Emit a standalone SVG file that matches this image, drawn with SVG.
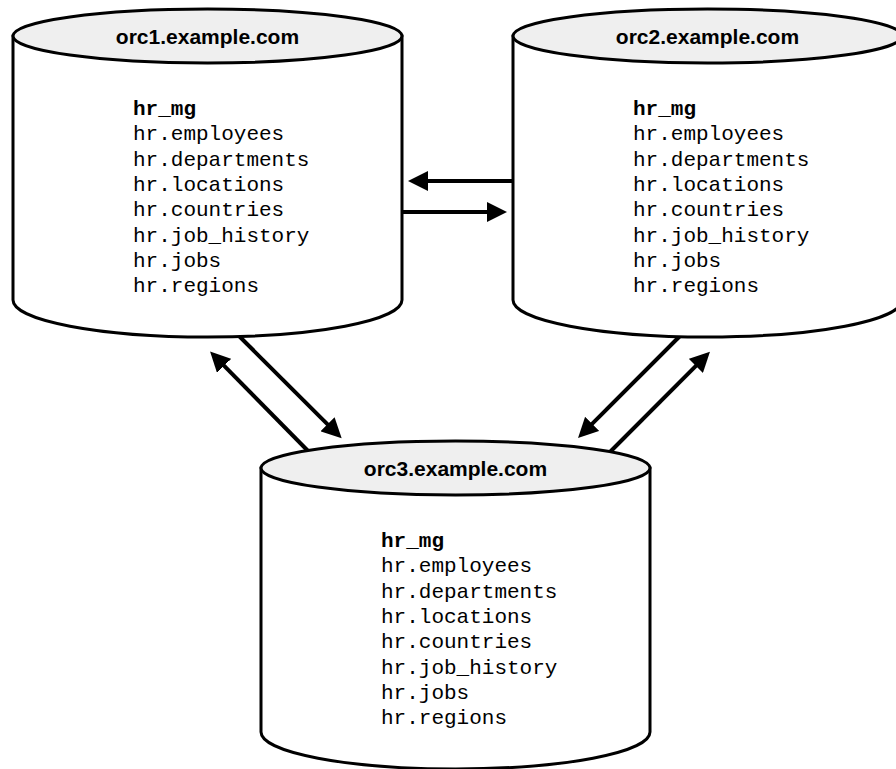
<svg xmlns="http://www.w3.org/2000/svg" width="896" height="769" viewBox="0 0 896 769">
<style>
.body{fill:#fff;stroke:#000;stroke-width:3}
.top{fill:#efefef;stroke:#000;stroke-width:3}
.title{font-family:"Liberation Sans",Arial,sans-serif;font-weight:bold;font-size:21px;fill:#000;text-anchor:middle}
.mono{font-family:"Liberation Mono","Courier New",monospace;font-size:21px;fill:#000}
.mono .b{font-weight:bold}
.conn{stroke:#000;stroke-width:4;fill:none;marker-end:url(#ah)}
</style>
<defs>
<marker id="ah" markerUnits="userSpaceOnUse" markerWidth="20" markerHeight="20" refX="10" refY="10" orient="auto" viewBox="0 0 20 20">
<path d="M0,0 L20,10 L0,20 Z" fill="#000"/>
</marker>
<g id="cyl">
<path class="body" d="M13,36 L13,300 A194.5,37 0 0 0 402,300 L402,36 Z"/>
<ellipse class="top" cx="207.5" cy="36" rx="194.5" ry="27"/>
</g>
</defs>
<g id="connectors">
<path class="conn" d="M513,181 L418,181"/>
<path class="conn" d="M402,212 L497,212"/>
<path class="conn" d="M312,455 L217.1,358.7"/>
<path class="conn" d="M238,335 L334.6,431.3"/>
<path class="conn" d="M682,334 L585.1,430.9"/>
<path class="conn" d="M607,455 L702.9,358.8"/>
</g>
<g id="orc1">
<use href="#cyl"/>
<text class="title" x="207.5" y="43.5">orc1.example.com</text>
<text class="mono" x="133"><tspan class="b" x="133" y="115">hr_mg</tspan><tspan x="133" y="140.3">hr.employees</tspan><tspan x="133" y="165.6">hr.departments</tspan><tspan x="133" y="190.9">hr.locations</tspan><tspan x="133" y="216.2">hr.countries</tspan><tspan x="133" y="241.5">hr.job_history</tspan><tspan x="133" y="266.8">hr.jobs</tspan><tspan x="133" y="292.1">hr.regions</tspan></text>
</g>
<g id="orc2" transform="translate(500,0)">
<use href="#cyl"/>
<text class="title" x="207.5" y="43.5">orc2.example.com</text>
<text class="mono" x="133"><tspan class="b" x="133" y="115">hr_mg</tspan><tspan x="133" y="140.3">hr.employees</tspan><tspan x="133" y="165.6">hr.departments</tspan><tspan x="133" y="190.9">hr.locations</tspan><tspan x="133" y="216.2">hr.countries</tspan><tspan x="133" y="241.5">hr.job_history</tspan><tspan x="133" y="266.8">hr.jobs</tspan><tspan x="133" y="292.1">hr.regions</tspan></text>
</g>
<g id="orc3" transform="translate(248,432)">
<use href="#cyl"/>
<text class="title" x="207.5" y="43.5">orc3.example.com</text>
<text class="mono" x="133"><tspan class="b" x="133" y="115">hr_mg</tspan><tspan x="133" y="140.3">hr.employees</tspan><tspan x="133" y="165.6">hr.departments</tspan><tspan x="133" y="190.9">hr.locations</tspan><tspan x="133" y="216.2">hr.countries</tspan><tspan x="133" y="241.5">hr.job_history</tspan><tspan x="133" y="266.8">hr.jobs</tspan><tspan x="133" y="292.1">hr.regions</tspan></text>
</g>
</svg>
